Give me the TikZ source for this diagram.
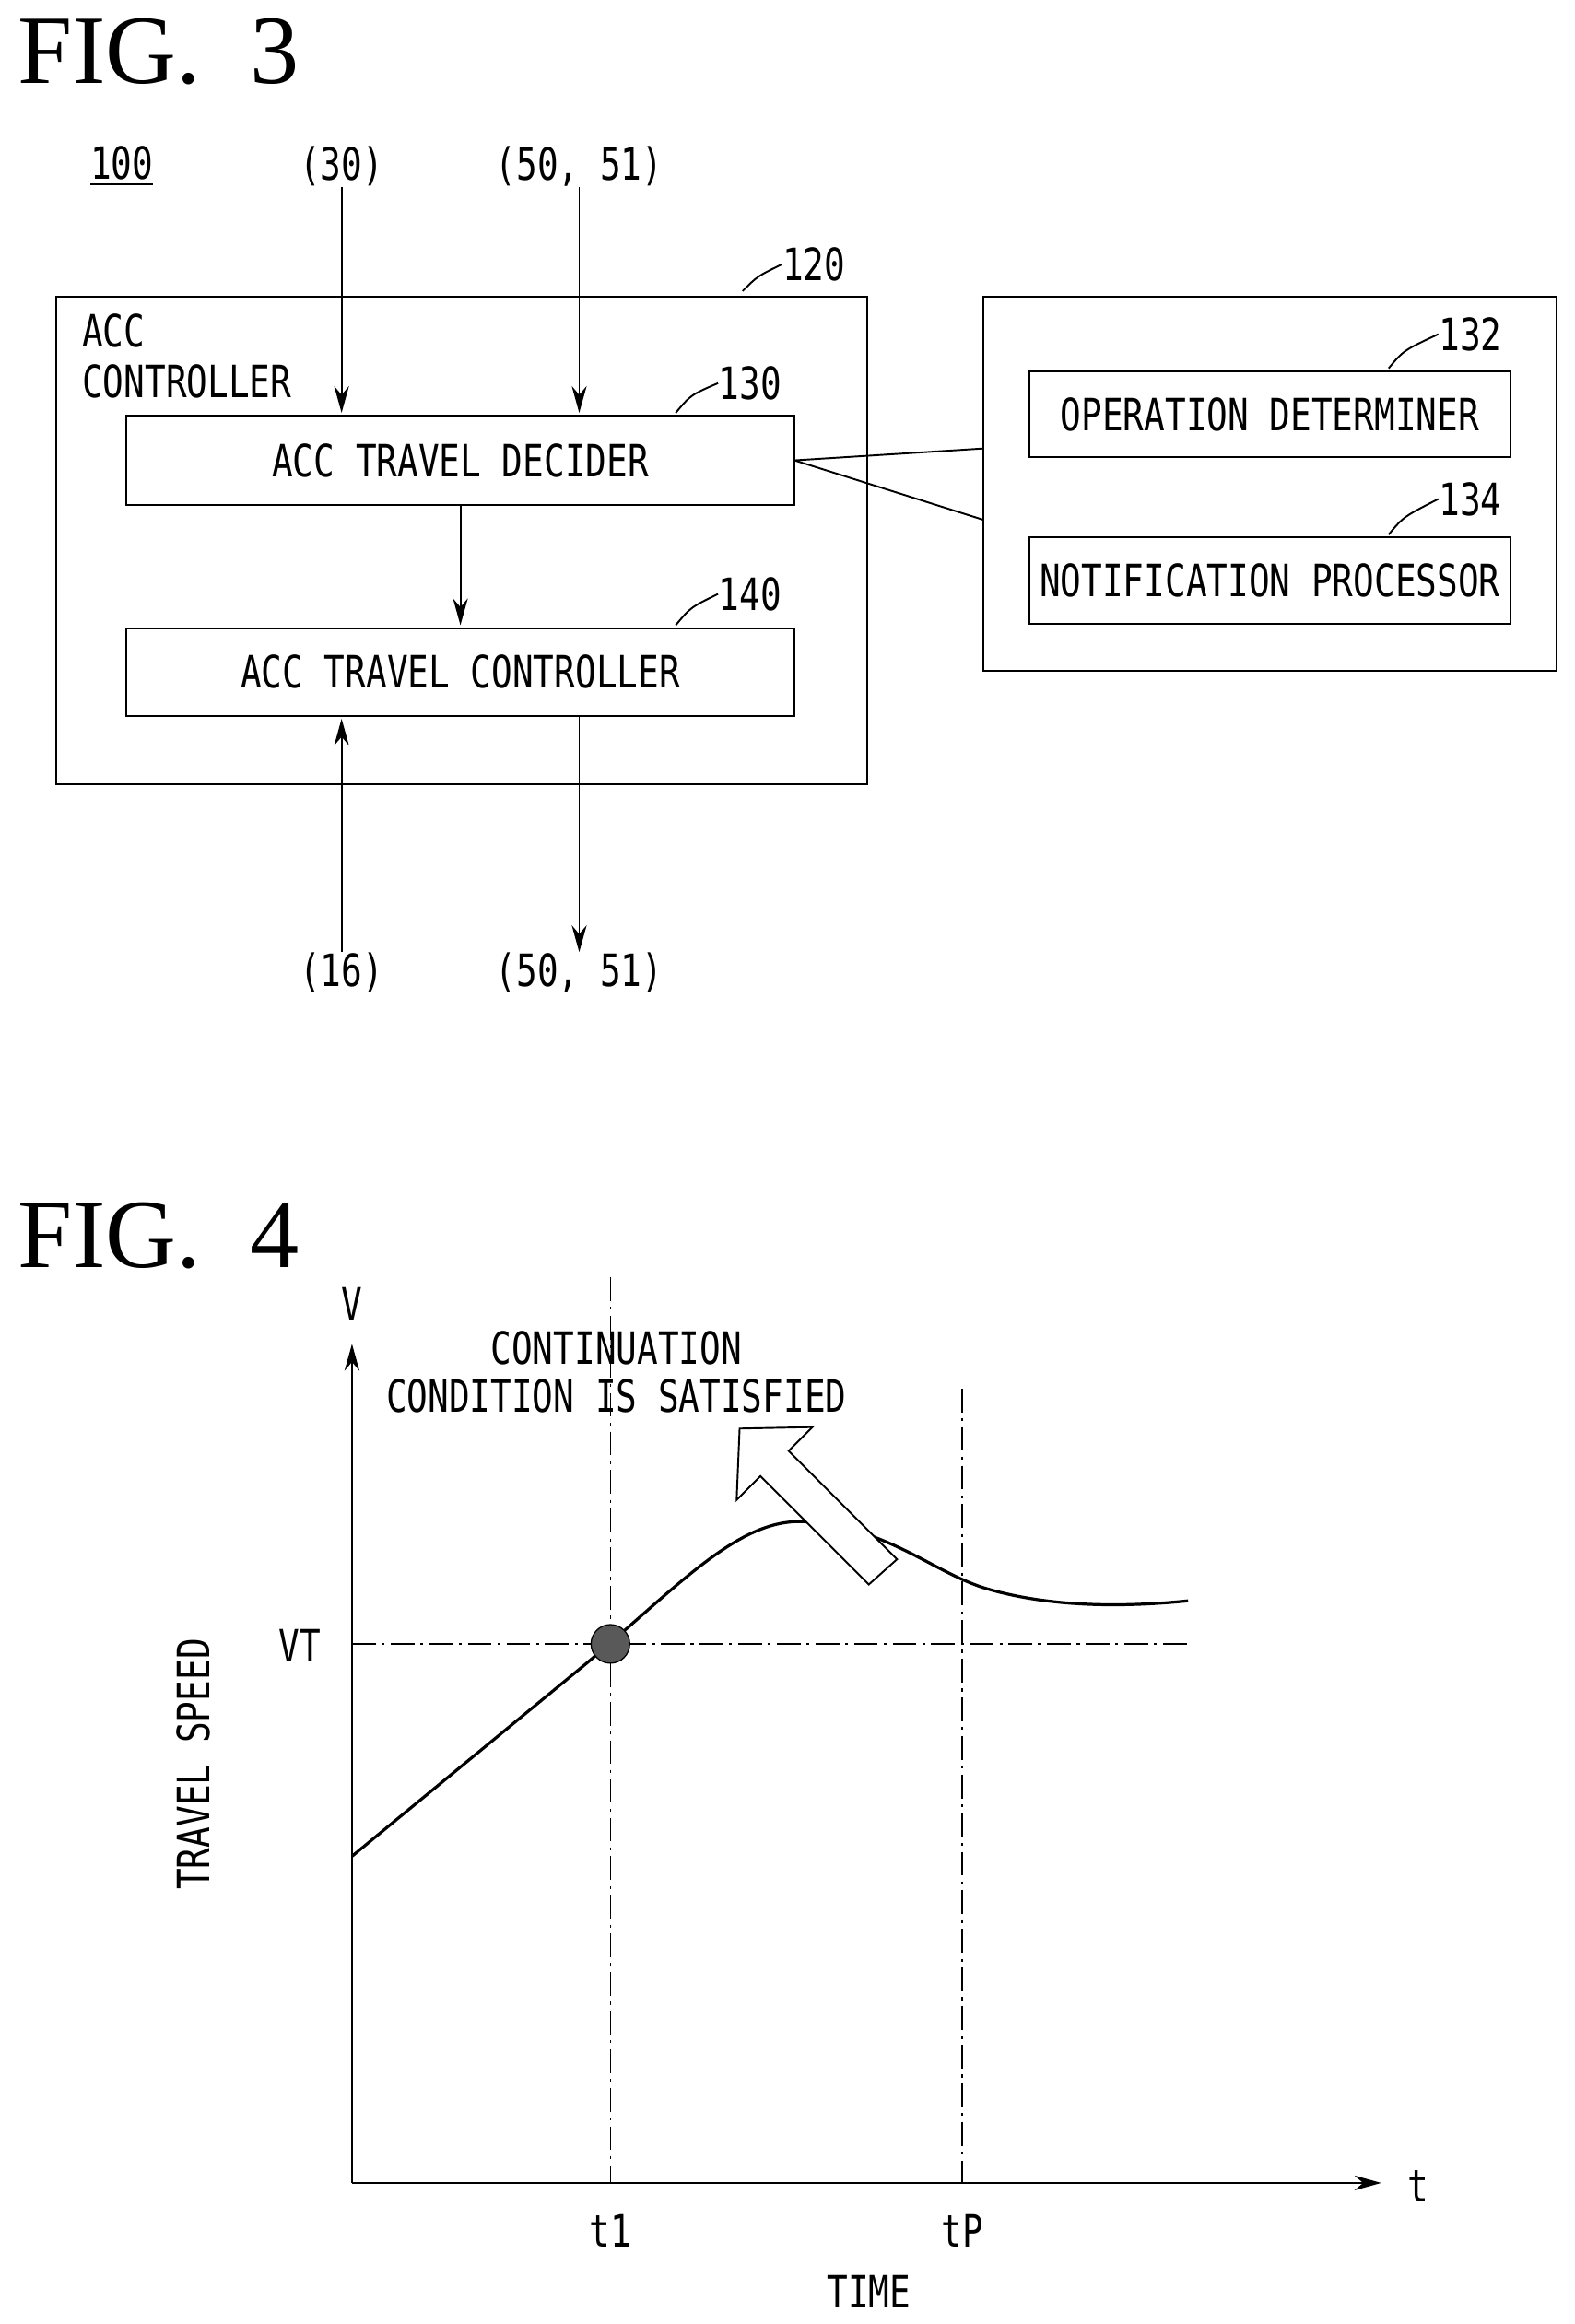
\documentclass[tikz,border=0pt]{standalone}
\usepackage{fontspec}
\setmainfont{Liberation Serif}
\newfontfamily\pat{DejaVu Sans Mono}[FakeStretch=0.78]
\usetikzlibrary{arrows.meta}
\begin{document}
\begin{tikzpicture}[x=0.5pt,y=-0.5pt,
  ln/.style={line width=0.6pt},
  txt/.style={font=\pat\fontsize{15}{17}\selectfont,inner sep=0pt},
  fig/.style={font=\fontsize{33}{36}\selectfont,inner sep=0pt,anchor=west},
  arr/.style={ln,-{Stealth[length=9pt,width=5pt]}},
  dd/.style={line width=0.5pt,dash pattern=on 8pt off 2pt on 1pt off 2pt}]
\useasboundingbox (0,0) rectangle (1060,1565);
% FIG 3
\node[fig] (f3) at (12,35) {FIG.\ \ 3};
\node[txt] (n100) at (82,112) {\underline{100}};
\node[txt] (i30) at (230,112) {(30)};
\node[txt] (i50) at (390,112) {(50, 51)};
\draw[ln] (38,200) rectangle (584,528);
\coordinate (b120) at (500,196);
\node[txt] (l120) at (548,178) {120};
\draw[ln] (b120) .. controls (510,186) .. (l120.west);
\node[txt,align=left,anchor=west] (accc) at (55,240) {ACC\\CONTROLLER};
\draw[ln] (85,280) rectangle (535,340);
\node[txt] (d130) at (310,310) {ACC TRAVEL DECIDER};
\node[txt] (l130) at (505,258) {130};
\draw[ln] (455,278) .. controls (465,266) .. (l130.west);
\draw[ln] (85,423) rectangle (535,482);
\node[txt] (c140) at (310,452) {ACC TRAVEL CONTROLLER};
\node[txt] (l140) at (505,400) {140};
\draw[ln] (455,421) .. controls (465,409) .. (l140.west);
\draw[arr] (i30.south) -- (230,278);
\draw[arr] (i50.south) -- (390,278);
\draw[arr] (310,340) -- (310,421);
\node[txt] (i16) at (230,655) {(16)};
\node[txt] (o50) at (390,655) {(50, 51)};
\draw[arr] (i16.north) -- (230,484);
\draw[arr] (o50.north |- 0,482) -- (o50.north);
% callout
\draw[ln] (662,200) rectangle (1048,452);
\coordinate (cp) at (535,310);
\draw[ln] (cp) -- (662,302);
\draw[ln] (cp) -- (662,350);
\draw[ln] (693,250) rectangle (1017,308);
\node[txt] (o132) at (855,279) {OPERATION DETERMINER};
\node[txt] (l132) at (990,225) {132};
\draw[ln] (935,248) .. controls (945,236) .. (l132.west);
\draw[ln] (693,362) rectangle (1017,420);
\node[txt] (n134) at (855,391) {NOTIFICATION PROCESSOR};
\node[txt] (l134) at (990,336) {134};
\draw[ln] (935,360) .. controls (945,348) .. (l134.west);
% FIG 4
\node[fig] (f4) at (12,832) {FIG.\ \ 4};
\coordinate (O) at (237,1470);
\draw[arr] (O) -- (237,905);
\draw[arr] (O) -- (930,1470);
\node[txt] (V) at (237,878) {V};
\node[txt] (tt) at (955,1472) {t};
\node[txt] (VT) at (202,1108) {VT};
\draw[dd] (237,1107) -- (800,1107);
\draw[dd] (411,860) -- (411,1470);
\draw[dd] (648,935) -- (648,1470);
\node[txt] (t1) at (411,1502) {t1};
\node[txt] (tP) at (648,1502) {tP};
\node[txt] (time) at (585,1543) {TIME};
\node[txt,rotate=90] (ts) at (130,1188) {TRAVEL SPEED};
\node[txt] (c1) at (415,908) {CONTINUATION};
\node[txt] (c2) at (415,940) {CONDITION IS SATISFIED};
\draw[line width=1pt] (237,1250) -- (395,1120) .. controls (460,1065) and (500,1020) .. (545,1025)
  .. controls (600,1030) and (630,1060) .. (665,1070) .. controls (710,1083) and (760,1082) .. (800,1078);
\draw[ln,fill=white,shift={(0,8)}] (498,954) -- (547,953) -- (531,969) -- (604,1042) -- (585,1059) -- (512,986) -- (496,1002) -- cycle;
\node[circle,fill=black!65,draw,minimum size=13pt,inner sep=0pt] (dot) at (411,1107) {};
\end{tikzpicture}
\end{document}
